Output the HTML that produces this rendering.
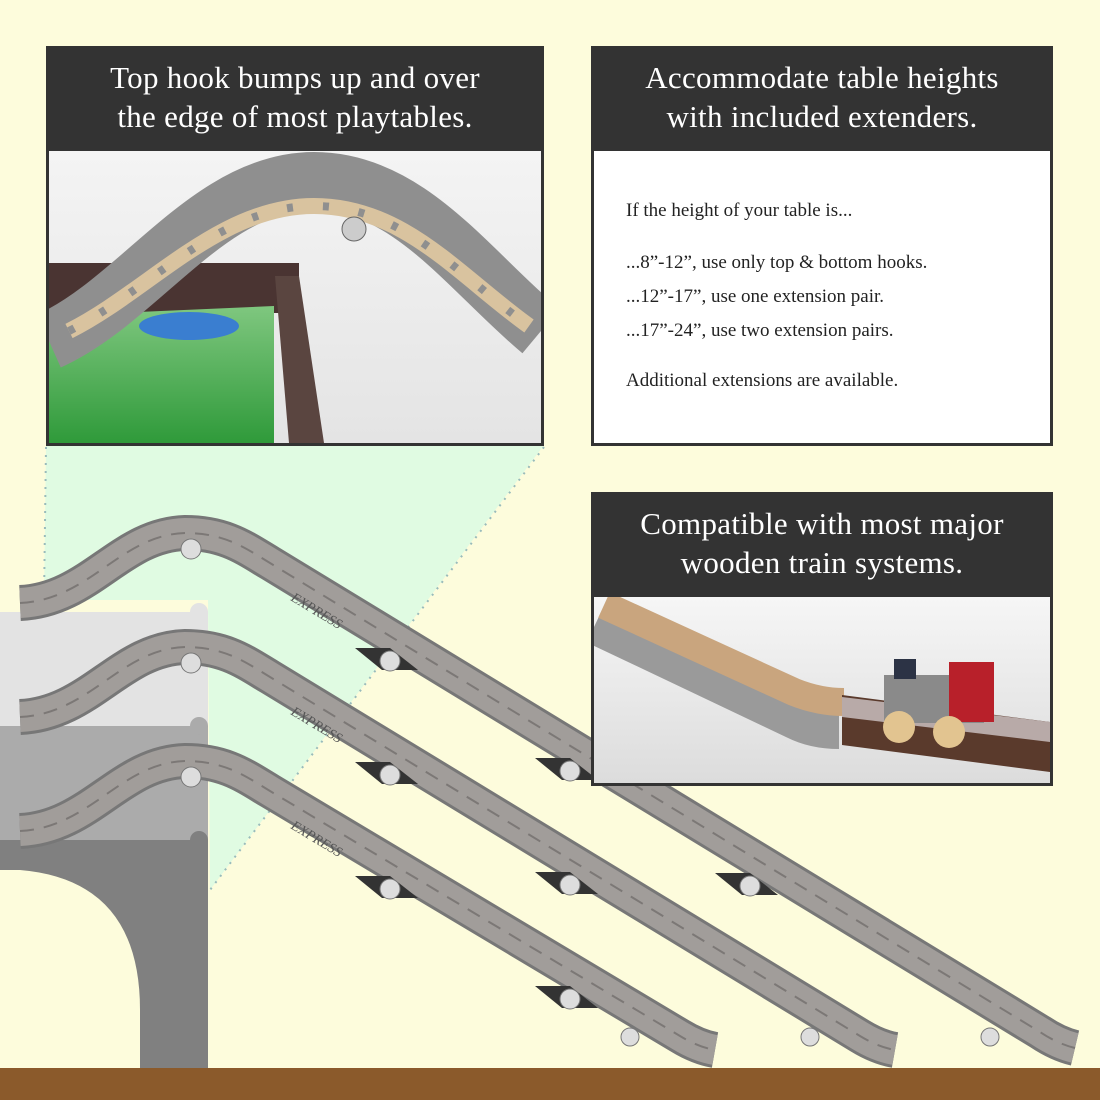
<!DOCTYPE html>
<html><head><meta charset="utf-8"><style>
html,body{margin:0;padding:0}
body{width:1100px;height:1100px;background:#fdfcdc;position:relative;overflow:hidden;font-family:"Liberation Serif",serif}
.hd{position:absolute;background:#333;color:#fff;text-align:center;font-size:31px;line-height:39px;box-sizing:border-box;padding-top:12px;letter-spacing:0.3px}
.box{position:absolute;border:3px solid #333;box-sizing:border-box;background:#fff}
.t{position:absolute;left:626px;font-size:19px;color:#222}
svg{position:absolute;left:0;top:0}
</style></head><body>
<svg width="1100" height="1100">
  <polygon points="46,445 544,445 210,890 208,600 44,600" fill="#e0fbe2"/>
  <line x1="46" y1="447" x2="44" y2="600" stroke="#9bb" stroke-width="2" stroke-dasharray="2,6"/>
  <line x1="544" y1="447" x2="210" y2="890" stroke="#9bb" stroke-width="2" stroke-dasharray="2,6"/>
  <rect x="0" y="612" width="208" height="114" fill="#e3e3e3"/>
  <circle cx="199" cy="612" r="9" fill="#e3e3e3"/>
  <rect x="0" y="726" width="208" height="114" fill="#ababab"/>
  <circle cx="199" cy="726" r="9" fill="#ababab"/>
  <rect x="0" y="840" width="208" height="230" fill="#808080"/>
  <circle cx="199" cy="840" r="9" fill="#808080"/>
  <path d="M0,870 L20,870 Q140,880 140,1010 L140,1070 L0,1070 Z" fill="#fdfcdc"/>
  <g fill="none">
    <path id="p1" d="M20,603 C90,600 120,535 185,533 C225,533 245,548 270,563 L1040,1032 Q1058,1044 1075,1048"/>
    <path id="p2" d="M20,717 C90,714 120,649 185,647 C225,647 245,662 270,677 L860,1036 Q878,1047 895,1050"/>
    <path id="p3" d="M20,831 C90,828 120,763 185,761 C225,761 245,776 270,791 L680,1036 Q698,1047 715,1050"/>
  </g>
  <g fill="none" stroke="#777" stroke-width="36"><use href="#p1"/><use href="#p2"/><use href="#p3"/></g>
  <g fill="none" stroke="#a19d9a" stroke-width="30"><use href="#p1"/><use href="#p2"/><use href="#p3"/></g>
  <g fill="none" stroke="#7c7876" stroke-width="2" stroke-dasharray="14,10"><use href="#p1"/><use href="#p2"/><use href="#p3"/></g>
  <g id="dec">
    <circle cx="191" cy="549" r="10" fill="#ddd" stroke="#777"/>
    <polygon points="355,648 390,648 418,670 382,670" fill="#333"/>
    <circle cx="390" cy="661" r="10" fill="#ddd" stroke="#777"/>
    <polygon points="535,758 570,758 598,780 562,780" fill="#333"/>
    <circle cx="570" cy="771" r="10" fill="#ddd" stroke="#777"/>
    <text x="290" y="600" font-size="14" font-style="italic" fill="#555" transform="rotate(31 290 600)">EXPRESS</text>
  </g>
  <use href="#dec" transform="translate(0,114)"/>
  <use href="#dec" transform="translate(0,228)"/>
  <polygon points="715,873 750,873 778,895 742,895" fill="#333"/>
  <circle cx="750" cy="886" r="10" fill="#ddd" stroke="#777"/>
  <circle cx="990" cy="1037" r="9" fill="#ddd" stroke="#777"/>
  <circle cx="810" cy="1037" r="9" fill="#ddd" stroke="#777"/>
  <circle cx="630" cy="1037" r="9" fill="#ddd" stroke="#777"/>
  <rect x="0" y="1068" width="1100" height="32" fill="#8b5a2b"/>
</svg>

<div class="hd" style="left:46px;top:46px;width:498px;height:104px">Top hook bumps up and over<br>the edge of most playtables.</div>
<div class="box" style="left:46px;top:148px;width:498px;height:298px;overflow:hidden">
<svg width="492" height="292" style="left:0;top:0">
  <defs><linearGradient id="g1" x1="0" y1="0" x2="0" y2="1"><stop offset="0" stop-color="#f4f4f4"/><stop offset="1" stop-color="#e4e4e4"/></linearGradient>
  <linearGradient id="gg" x1="0" y1="0" x2="0" y2="1"><stop offset="0" stop-color="#7fc77f"/><stop offset="1" stop-color="#2f9a3a"/></linearGradient></defs>
  <rect width="492" height="292" fill="url(#g1)"/>
  <rect x="0" y="112" width="250" height="50" fill="#4a3432"/>
  <polygon points="0,165 225,155 225,292 0,292" fill="url(#gg)"/>
  <ellipse cx="140" cy="175" rx="50" ry="14" fill="#3a7ed0"/>
  <polygon points="226,125 250,125 275,292 240,292" fill="#5a4540"/>
  <path d="M0,190 C90,150 160,30 265,30 C360,30 420,120 492,180" fill="none" stroke="#8f8f8f" stroke-width="58"/>
  <path d="M20,180 C100,140 170,55 265,55 C355,55 410,125 480,175" fill="none" stroke="#d9c39f" stroke-width="16"/>
  <path d="M20,180 C100,140 170,55 265,55 C355,55 410,125 480,175" fill="none" stroke="#8f8f8f" stroke-width="8" stroke-dasharray="6,30"/>
  <circle cx="305" cy="78" r="12" fill="#ccc" stroke="#666"/>
</svg></div>

<div class="hd" style="left:591px;top:46px;width:462px;height:104px">Accommodate table heights<br>with included extenders.</div>
<div class="box" style="left:591px;top:148px;width:462px;height:298px"></div>
<div class="t" style="top:200px">If the height of your table is...</div>
<div class="t" style="top:252px">...8”-12”, use only top &amp; bottom hooks.</div>
<div class="t" style="top:286px">...12”-17”, use one extension pair.</div>
<div class="t" style="top:320px">...17”-24”, use two extension pairs.</div>
<div class="t" style="top:370px">Additional extensions are available.</div>

<div class="hd" style="left:591px;top:492px;width:462px;height:104px">Compatible with most major<br>wooden train systems.</div>
<div class="box" style="left:591px;top:594px;width:462px;height:192px;overflow:hidden">
<svg width="456" height="186">
  <defs><linearGradient id="g2" x1="0" y1="0" x2="0" y2="1"><stop offset="0" stop-color="#f6f6f6"/><stop offset="1" stop-color="#dcdcdc"/></linearGradient></defs>
  <rect width="456" height="186" fill="url(#g2)"/>
  <path d="M0,30 L200,125 Q220,135 245,135" fill="none" stroke="#9a9a9a" stroke-width="34"/>
  <path d="M10,8 L200,95 Q225,105 250,105" fill="none" stroke="#c9a57e" stroke-width="28"/>
  <polygon points="248,98 456,125 456,175 248,148" fill="#5a3a2c"/>
  <polygon points="248,100 456,125 456,145 248,120" fill="#b8aaa8"/>
  <rect x="290" y="78" width="100" height="48" fill="#8a8a8a"/>
  <rect x="355" y="65" width="45" height="60" fill="#b8202a"/>
  <rect x="300" y="62" width="22" height="20" fill="#2c3345"/>
  <circle cx="305" cy="130" r="16" fill="#e2c490"/>
  <circle cx="355" cy="135" r="16" fill="#e2c490"/>
</svg></div>
</body></html>
